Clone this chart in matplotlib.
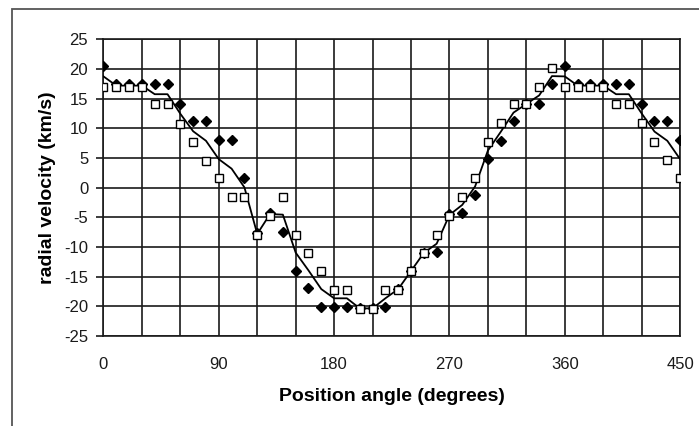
import numpy as np
import matplotlib
matplotlib.use('Agg')
import matplotlib.pyplot as plt
from matplotlib.patches import Rectangle

plt.rcParams['font.family'] = ['Liberation Sans', 'DejaVu Sans']
plt.rcParams['axes.unicode_minus'] = False

angle = [0, 10, 20, 30, 40, 50, 60, 70, 80, 90,
         100, 110, 120, 130, 140, 150, 160, 170, 180, 190,
         200, 210, 220, 230, 240, 250, 260, 270, 280, 290,
         300, 310, 320, 330, 340, 350, 360, 370, 380, 390,
         400, 410, 420, 430, 440, 450]

# filled diamonds
vel_a = [20.5, 17.4, 17.4, 17.4, 17.4, 17.4, 14.1, 11.3, 11.3, 8.0,
         8.0, 1.7, -7.7, -4.2, -7.5, -14.0, -16.9, -20.1, -20.1, -20.1,
         -20.3, -20.3, -20.1, -17.0, -14.0, -11.0, -10.9, -4.5, -4.3, -1.2,
         4.8, 7.9, 11.2, 14.1, 14.1, 17.4, 20.5, 17.4, 17.4, 17.4,
         17.4, 17.4, 14.1, 11.2, 11.2, 8.0]

# open squares
vel_b = [17.0, 17.0, 17.0, 17.0, 14.1, 14.1, 10.8, 7.7, 4.5, 1.6,
         -1.6, -1.6, -7.9, -4.7, -1.6, -7.9, -11.0, -14.1, -17.2, -17.2,
         -20.4, -20.4, -17.2, -17.2, -14.1, -11.0, -8.0, -4.7, -1.5, 1.6,
         7.7, 10.9, 14.1, 14.1, 17.0, 20.2, 17.0, 17.0, 17.0, 17.0,
         14.1, 14.1, 10.9, 7.7, 4.6, 1.6]

# mean curve
vel_mean = [18.75, 17.2, 17.2, 17.2, 15.75, 15.75, 12.45, 9.5, 7.9, 4.8,
            3.2, 0.05, -7.8, -4.45, -4.55, -10.95, -13.95, -17.1, -18.65, -18.65,
            -20.35, -20.35, -18.65, -17.1, -14.05, -11.0, -9.45, -4.6, -2.9, 0.2,
            6.25, 9.4, 12.65, 14.1, 15.55, 18.8, 18.75, 17.2, 17.2, 17.2,
            15.75, 15.75, 12.5, 9.45, 7.9, 4.8]

fig = plt.figure(figsize=(6.99, 4.26), dpi=100)
ax = fig.add_axes([0.148, 0.2113, 0.825, 0.6964])

# outer chart border (cut off at right and bottom)
fig.patches.append(Rectangle((12/699, -0.1), 1.2, 1 - 9/426 + 0.1, transform=fig.transFigure,
                             fill=False, edgecolor='#555555', linewidth=1.3, clip_on=False))

ax.plot(angle, vel_mean, color='black', linewidth=1.3, zorder=3)
ax.plot(angle, vel_a, linestyle='none', marker='D', markersize=5.5,
        color='black', zorder=4)
ax.plot(angle, vel_b, linestyle='none', marker='s', markersize=5.8,
        markerfacecolor='white', markeredgecolor='black', markeredgewidth=1.0, zorder=5)

ax.set_xlim(0, 450)
ax.set_ylim(-25, 25)
ax.set_xticks(np.arange(0, 451, 90))
ax.set_xticks(np.arange(0, 451, 30), minor=True)
ax.set_yticks(np.arange(-25, 26, 5))
ax.grid(True, which='both', color='#1a1a1a', linewidth=1.2)
ax.set_axisbelow(True)
for s in ax.spines.values():
    s.set_color('#1a1a1a')
    s.set_linewidth(1.2)

ax.tick_params(axis='x', which='both', length=0, pad=15, labelsize=12, colors='#1a1a1a')
ax.tick_params(axis='y', length=5, width=1.2, pad=6, labelsize=12, colors='#1a1a1a')

ax.set_xlabel('Position angle (degrees)', fontsize=14, fontweight='bold', labelpad=12)
ax.set_ylabel('radial velocity (km/s)', fontsize=14, fontweight='bold', labelpad=6)

fig.savefig('out.png', dpi=100)
